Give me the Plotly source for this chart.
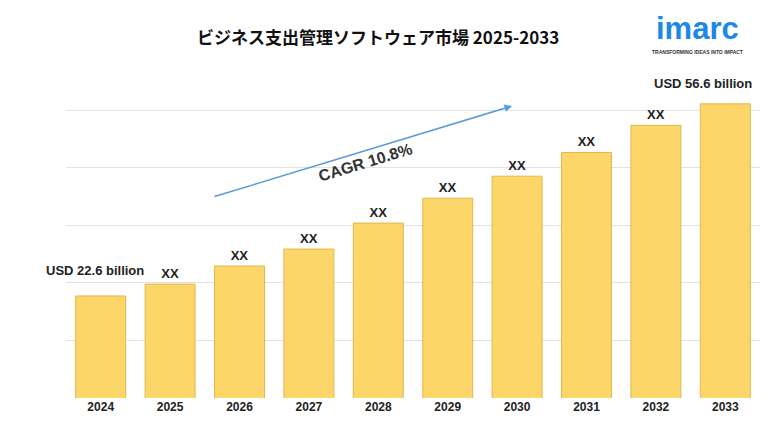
import plotly.graph_objects as go

years = ["2024","2025","2026","2027","2028","2029","2030","2031","2032","2033"]
values = [22.6, 24.7, 27.9, 30.9, 35.5, 39.9, 43.8, 48.0, 52.8, 56.6]
labels = ["", "XX", "XX", "XX", "XX", "XX", "XX", "XX", "XX", ""]

fig = go.Figure(go.Bar(
    x=years, y=values, width=0.72,
    marker=dict(color="#FCD669", line=dict(color="#E0B84A", width=1)),
    text=labels, textposition="outside", cliponaxis=False, texttemplate="<b>%{text}</b>",
    textfont=dict(family="Liberation Sans", size=13, color="#222"),
))
fig.update_layout(
    width=768, height=432, plot_bgcolor="white", paper_bgcolor="white",
    margin=dict(l=58, r=16, t=48, b=42), showlegend=False,
    font=dict(family="Liberation Sans"),
    xaxis=dict(type="category", range=[-0.5, 9.5],
               tickfont=dict(size=12, color="#222", family="Liberation Sans"),
               showline=False, ticks="", tickprefix="<b>", ticksuffix="</b>"),
    yaxis=dict(range=[4.54, 65.07], tick0=4.54, dtick=10.18, showticklabels=False,
               gridcolor="#E3E3E3", zeroline=False),
    title=dict(text="<b>ビジネス支出管理ソフトウェア市場 2025-2033</b>", x=0.482, y=0.945,
               font=dict(family="Noto Sans CJK JP", size=17, color="#111")),
)
fig.add_annotation(x=0, y=values[0], text="<b>USD 22.6 billion</b>", showarrow=False,
                   yshift=25, xshift=-6, font=dict(size=13, color="#222"))
fig.add_annotation(x=9, y=values[-1], text="<b>USD 56.6 billion</b>", showarrow=False,
                   yshift=20, xshift=-22, font=dict(size=13, color="#222"))
fig.add_annotation(xref="paper", yref="paper", x=(512-66)/694, y=(398-106)/342,
                   ax=-299, ay=91, axref="pixel", ayref="pixel",
                   text="", showarrow=True, arrowhead=2, arrowsize=1, arrowwidth=1.5,
                   arrowcolor="#5B9BD5", standoff=0, startstandoff=0)
fig.add_annotation(xref="paper", yref="paper", x=(365-66)/694, y=(398-138)/342, text="<b>CAGR 10.8%</b>",
                   showarrow=False, textangle=-17, font=dict(size=16, color="#333"))
fig.add_annotation(xref="paper", yref="paper", x=(697-66)/694, y=(398-29)/342,
                   xanchor="center", yanchor="middle",
                   text="<b>imarc</b>", showarrow=False,
                   font=dict(size=31, color="#1E88E5", family="Liberation Sans"))
fig.add_annotation(xref="paper", yref="paper", x=(697-66)/694, y=(398-52)/342,
                   xanchor="center", yanchor="middle",
                   text="<b>TRANSFORMING IDEAS INTO IMPACT</b>", showarrow=False,
                   font=dict(size=5, color="#333"))
fig.write_html("out.html")
